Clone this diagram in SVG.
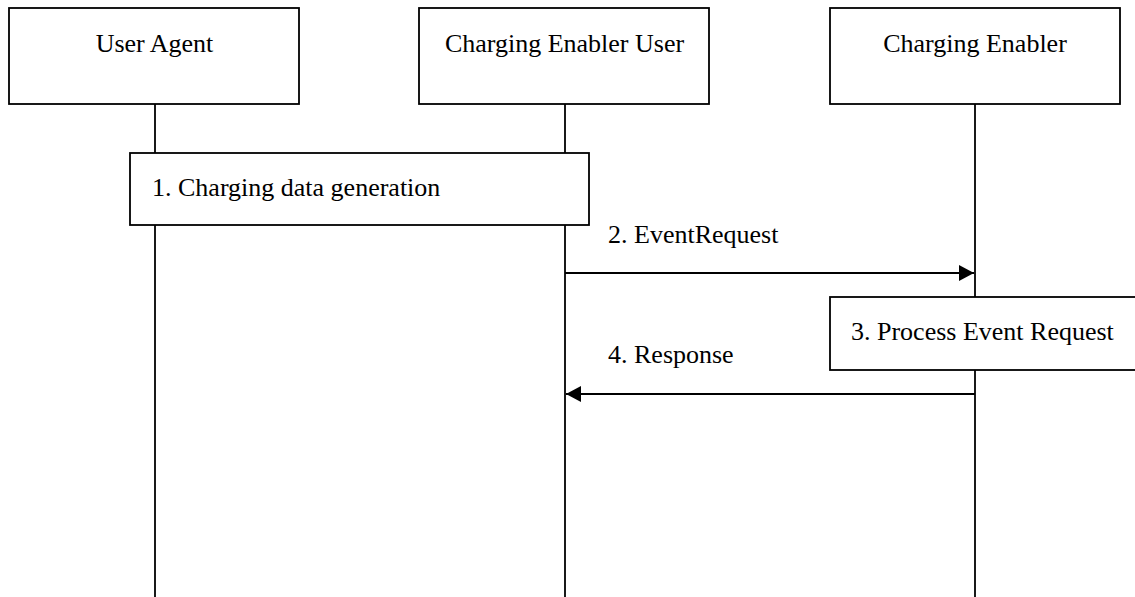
<svg xmlns="http://www.w3.org/2000/svg" width="1135" height="597" viewBox="0 0 1135 597">
<defs>
<style>
.box{fill:#fff;stroke:#000;stroke-width:1.8}
.ll{stroke:#000;stroke-width:1.8;fill:none}
.msg{stroke:#000;stroke-width:1.8;fill:none}
text{font-family:"Liberation Serif","Times New Roman",serif;font-size:26px;fill:#000}
</style>
<marker id="ah" viewBox="0 0 15 16" refX="15" refY="8" markerWidth="15" markerHeight="16" markerUnits="userSpaceOnUse" orient="auto">
<path d="M0,0 L15,8 L0,16 Z" fill="#000"/>
</marker>
</defs>
<rect width="1135" height="597" fill="#fff"/>
<g id="lifelines" class="connectors">
<line class="ll" x1="155" y1="104" x2="155" y2="597"/>
<line class="ll" x1="565" y1="104" x2="565" y2="597"/>
<line class="ll" x1="975" y1="104" x2="975" y2="597"/>
</g>
<g id="user-agent">
<rect class="box" x="9" y="8" width="290" height="96"/>
<text x="154.5" y="52" text-anchor="middle">User Agent</text>
</g>
<g id="charging-enabler-user">
<rect class="box" x="419" y="8" width="290" height="96"/>
<text x="564.5" y="52" text-anchor="middle">Charging Enabler User</text>
</g>
<g id="charging-enabler">
<rect class="box" x="830" y="8" width="290" height="96"/>
<text x="975" y="52" text-anchor="middle">Charging Enabler</text>
</g>
<g id="step1">
<rect class="box" x="130" y="153" width="459" height="72"/>
<text x="152" y="196">1. Charging data generation</text>
</g>
<g id="step3">
<rect class="box" x="830" y="297" width="320" height="73"/>
<text x="851" y="340">3. Process Event Request</text>
</g>
<g id="connectors">
<line class="msg" x1="565" y1="273" x2="974" y2="273" marker-end="url(#ah)"/>
<text x="608" y="243">2. EventRequest</text>
<line class="msg" x1="975" y1="394" x2="566" y2="394" marker-end="url(#ah)"/>
<text x="608" y="363">4. Response</text>
</g>
</svg>
